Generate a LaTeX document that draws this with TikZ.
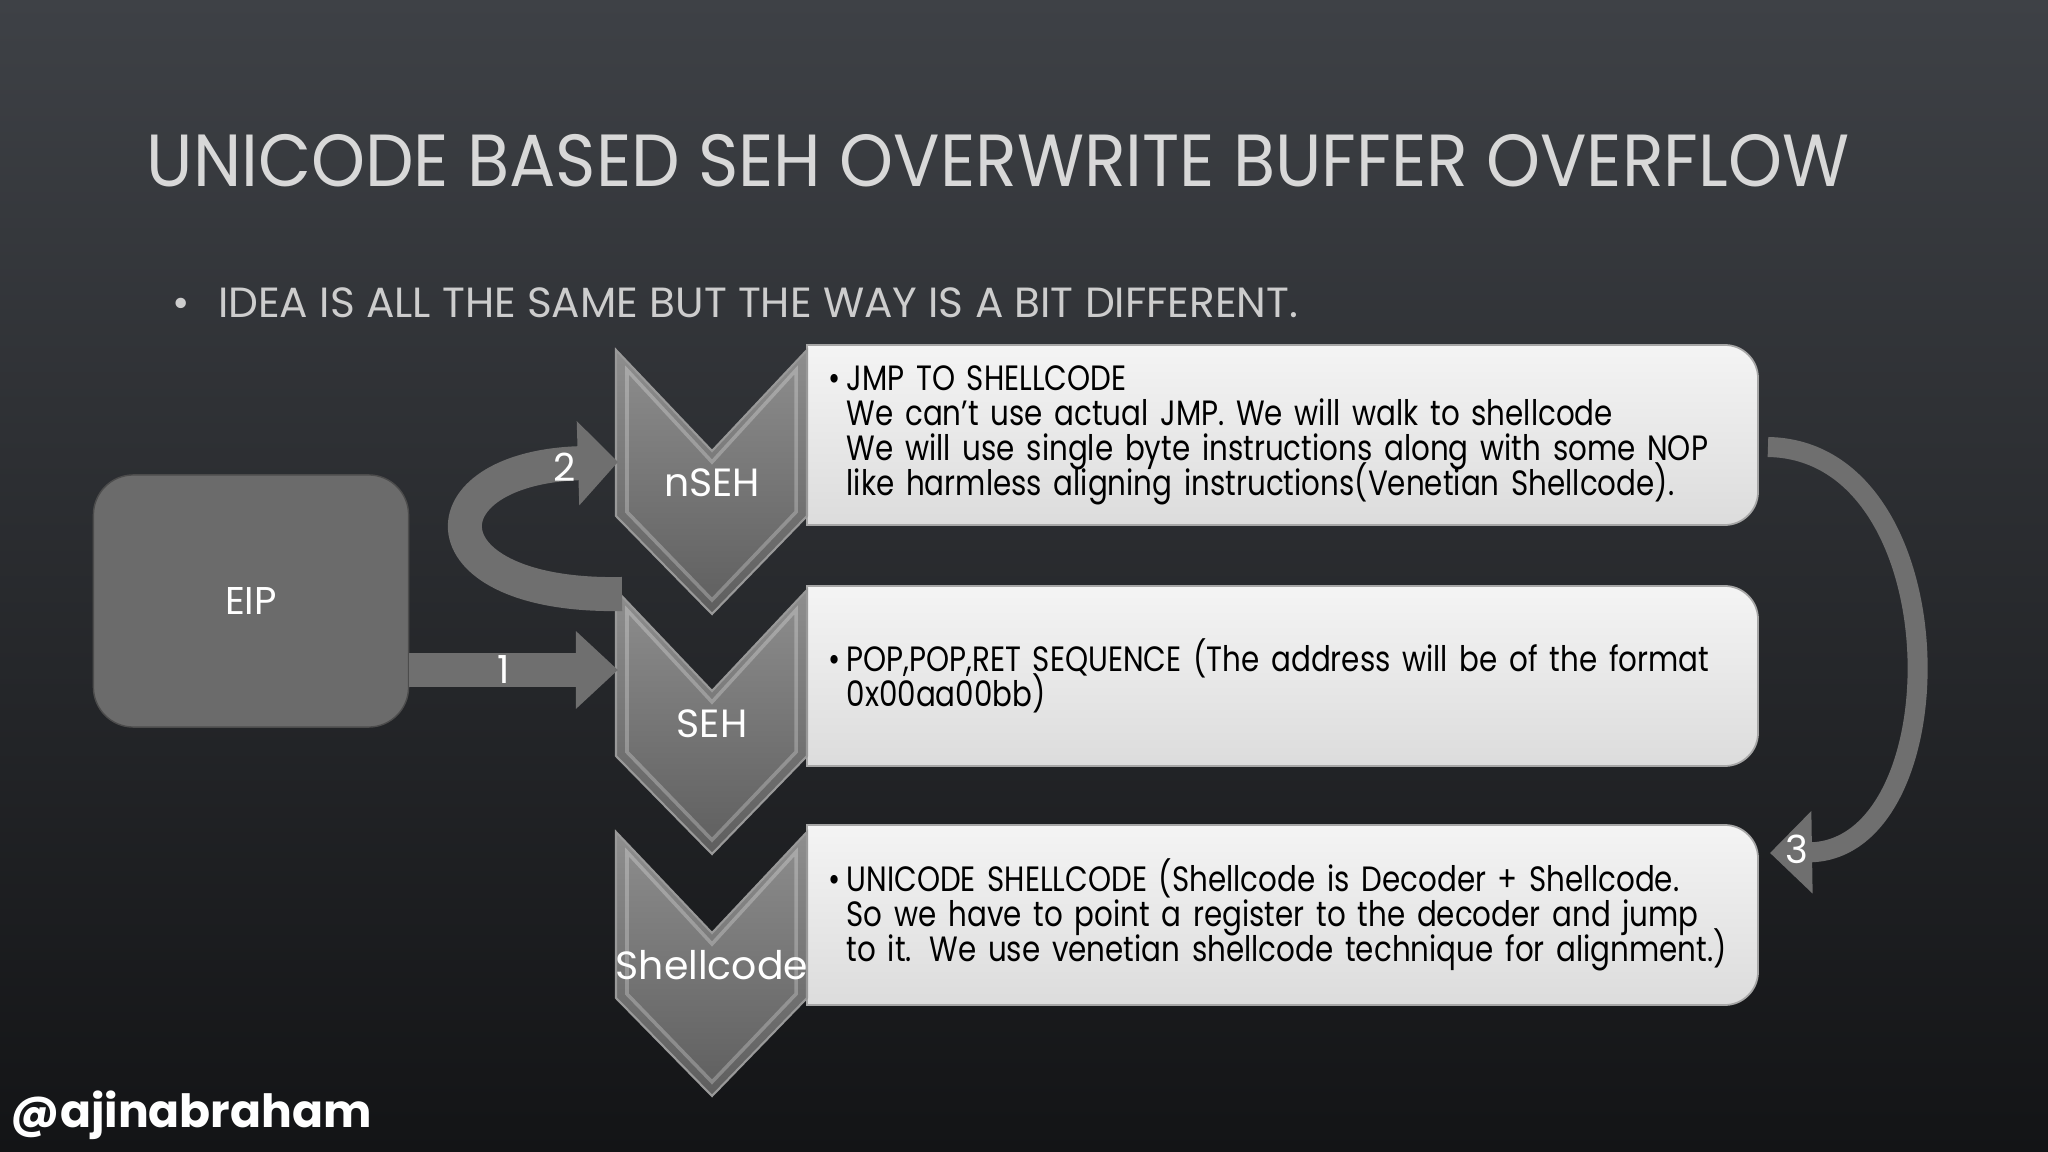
\documentclass[tikz,border=0pt]{standalone}
\usepackage{fontspec}
\setmainfont{Poppins}
\newfontfamily\narrowfont[FakeStretch=0.835]{Poppins}
\newfontfamily\titlefont[FakeStretch=0.93]{Poppins}
\newcommand\cardfont{\narrowfont\fontsize{10}{9.96}\selectfont\lineskiplimit=-20pt\relax}
\usetikzlibrary{arrows.meta, positioning}

\definecolor{bgtop}{HTML}{3E4146}
\definecolor{bgmid}{HTML}{27292D}
\definecolor{bgbottom}{HTML}{131416}
\definecolor{titlegray}{HTML}{D8D8D8}
\definecolor{bodygray}{HTML}{6B6B6B}
\definecolor{arrowgray}{HTML}{6F6F6F}
\definecolor{chevtop}{HTML}{8E8E8E}
\definecolor{chevbottom}{HTML}{5E5E5E}
\definecolor{cardtop}{HTML}{F4F4F4}
\definecolor{cardbottom}{HTML}{DCDCDC}

\begin{document}
\begin{tikzpicture}[
    x=0.01cm, y=-0.01cm,
    chev/.style = {
        top color=chevtop, bottom color=chevbottom,
        draw=gray!80, line width=0.6pt
    },
    bevel/.style = {
        draw=white, draw opacity=0.25, line width=1pt
    },
    chevlabel/.style = {
        text=white,
        font=\fontsize{11.2}{13}\selectfont
    },
    card/.style = {
        top color=cardtop, bottom color=cardbottom,
        draw=gray!70, line width=0.5pt
    },
    cardtext/.style = {
        anchor=west,
        minimum height=1.8cm,
        text width=9.5cm,
        inner xsep=0.21cm,
        align=left,
        font=\cardfont
    },
    eipbox/.style = {
        rectangle,
        rounded corners=0.4cm,
        fill=bodygray, draw=gray!60!black,
        minimum width=3.15cm,
        minimum height=2.52cm,
        text=white,
        font=\fontsize{11}{13}\selectfont
    },
    bigarrow/.style = {
        draw=arrowgray, line width=0.33cm,
        -{Triangle[length=0.42cm, width=0.75cm]}
    },
    numlabel/.style = {
        text=white,
        font=\fontsize{11}{13}\selectfont
    }
]

\useasboundingbox (0,0) rectangle (2048,1152);
\fill[top color=bgtop, middle color=bgmid, bottom color=bgbottom] (0,0) rectangle (2048,1152);

% Heading
\node[anchor=base west, inner sep=0, text=titlegray, font=\titlefont\fontsize{21}{25}\selectfont]
    (title) at (146,187) {UNICODE BASED SEH OVERWRITE BUFFER OVERFLOW};
\node[anchor=base west, inner sep=0, text=titlegray!95!black, font=\fontsize{12}{15}\selectfont]
    (idea) at (172,318) {\textbullet\hspace{0.28cm}IDEA IS ALL THE SAME BUT THE WAY IS A BIT DIFFERENT.};

% Cards behind the text
\foreach \cy in {345,586,825}
    \path[card] (807,\cy) -- (1725,\cy) .. controls (1743,\cy) and (1758,\cy+15) .. (1758,\cy+33)
        -- (1758,\cy+147) .. controls (1758,\cy+165) and (1743,\cy+180) .. (1725,\cy+180)
        -- (807,\cy+180) -- cycle;

% Chevrons
\foreach \cy in {350,590,832} {
    \path[chev] (616,\cy) -- (712,\cy+101) -- (807,\cy) -- (807,\cy+166)
        -- (712,\cy+264) -- (616,\cy+166) -- cycle;
    \path[bevel] (627,\cy+20) -- (712,\cy+112) -- (796,\cy+20) -- (796,\cy+162)
        -- (712,\cy+250) -- (627,\cy+162) -- cycle;
}

\node[chevlabel] (nseh)  at (712,483) {nSEH};
\node[chevlabel] (seh)   at (712,724) {SEH};
\node[chevlabel] (shell) at (712,965) {Shellcode};

% Card texts
\node[cardtext] (jmpcard) at (807,435) {\textbullet\,JMP TO SHELLCODE\\
    \phantom{\textbullet\,}We can’t use actual JMP. We will walk to shellcode\\
    \phantom{\textbullet\,}We will use single byte instructions along with some NOP\\
    \phantom{\textbullet\,}like harmless aligning instructions(Venetian Shellcode).};
\node[cardtext] (popcard) at (807,676) {\textbullet\,POP,POP,RET SEQUENCE (The address will be of the format\\
    \phantom{\textbullet\,}0x00aa00bb)};
\node[cardtext] (unicard) at (807,915) {\textbullet\,UNICODE SHELLCODE (Shellcode is Decoder + Shellcode.\\
    \phantom{\textbullet\,}So we have to point a register to the decoder and jump\\
    \phantom{\textbullet\,}to it. We use venetian shellcode technique for alignment.)};

\node[eipbox] (eip) at (251,601) {EIP};

% Arrows
\coordinate (sehin)   at (618,670);
\coordinate (nsehin)  at (618,462);
\coordinate (loopout) at (622,594);

\draw[bigarrow] (eip.east |- sehin) -- node[numlabel, pos=0.45] {1} (sehin);
\draw[bigarrow, line width=0.34cm, -{Triangle[length=0.4cm, width=0.82cm]}]
    (loopout) .. controls (420,598) and (420,468) .. node[numlabel, pos=0.9] {2} (nsehin);
\draw[bigarrow, line width=0.2cm, -{Triangle[length=0.42cm, width=0.8cm]}]
    ([shift={(-0.33cm,-0.12cm)}]jmpcard.east) .. controls (1960,450) and (1960,850)
    .. node[numlabel, pos=0.95] {3} ([shift={(-0.31cm,0.62cm)}]unicard.east);

\node[anchor=base west, inner sep=0, text=white, font=\bfseries\fontsize{13}{16}\selectfont]
    (handle) at (10,1127) {@ajinabraham};

\end{tikzpicture}
\end{document}
